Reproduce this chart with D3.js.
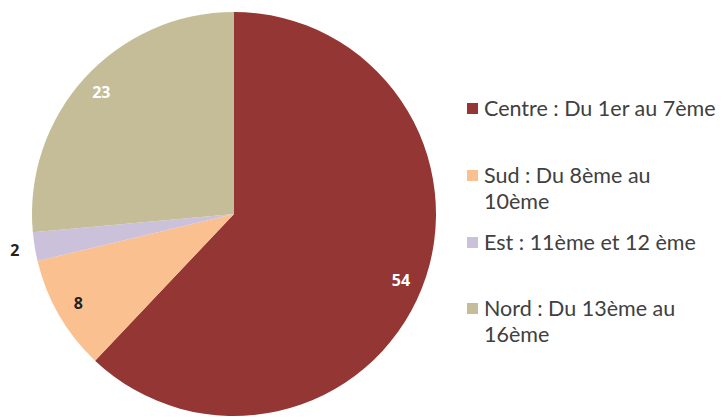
<!DOCTYPE html>
<html>
<head>
<meta charset="utf-8">
<script src="https://cdn.jsdelivr.net/npm/d3@7"></script>
<style>
  body { margin: 0; background: #fff; }
  text { font-family: "Open Sans", sans-serif; }
  .legend text { font-family: Lato, sans-serif; }
</style>
</head>
<body>
<div id="container"></div>
<script>
/* DATA */
const categories = ["Centre", "Sud", "Est", "Nord"];
const values = [54, 8, 2, 23];
const legendLabels = [
  ["Centre : Du 1er au 7ème"],
  ["Sud : Du 8ème au", "10ème"],
  ["Est : 11ème et 12 ème"],
  ["Nord : Du 13ème au", "16ème"]
];
const colors = ["#943634", "#FAC090", "#CCC1DA", "#C4BD97"];
const labelColors = ["#fff", "#222", "#222", "#fff"];

/* CONSTANTS */
const width = 724;
const height = 418;
const cx = 234, cy = 214, radius = 202;

const svg = d3.select("#container")
  .append("svg")
  .attr("width", width)
  .attr("height", height);

const data = categories.map((c, i) => ({ cat: c, value: values[i], i: i }));

const pie = d3.pie().value(d => d.value).sort(null);
const arc = d3.arc().innerRadius(0).outerRadius(radius);
const arcs = pie(data);

const g = svg.append("g").attr("transform", `translate(${cx},${cy})`);

g.selectAll("path")
  .data(arcs)
  .join("path")
  .attr("d", arc)
  .attr("fill", d => colors[d.data.i]);

// labels, the small slice gets its label outside
const labelArc = d3.arc().innerRadius(radius * 0.89).outerRadius(radius * 0.89);
const outerArc = d3.arc().innerRadius(radius * 1.1).outerRadius(radius * 1.1);

g.selectAll("text.val")
  .data(arcs)
  .join("text")
  .attr("class", "val")
  .attr("transform", d => `translate(${(d.data.value < 5 ? outerArc : labelArc).centroid(d)})`)
  .attr("text-anchor", "middle")
  .attr("dy", "0.35em")
  .attr("font-size", 16)
  .attr("font-weight", "bold")
  .attr("fill", d => labelColors[d.data.i])
  .text(d => d.data.value);

// legend
const legendY = [108, 175, 242, 308];
const legend = svg.append("g")
  .attr("class", "legend")
  .attr("transform", "translate(467,0)");

const items = legend.selectAll("g")
  .data(data)
  .join("g")
  .attr("transform", d => `translate(0,${legendY[d.i]})`);

items.append("rect")
  .attr("x", 0)
  .attr("y", -5)
  .attr("width", 11)
  .attr("height", 11)
  .attr("fill", d => colors[d.i]);

items.append("text")
  .attr("x", 17)
  .attr("font-size", 21.5)
  .attr("fill", "#404040")
  .selectAll("tspan")
  .data(d => legendLabels[d.i])
  .join("tspan")
  .attr("x", 17)
  .attr("y", (d, j) => j * 26)
  .attr("dy", "0.35em")
  .text(d => d);
</script>
</body>
</html>
